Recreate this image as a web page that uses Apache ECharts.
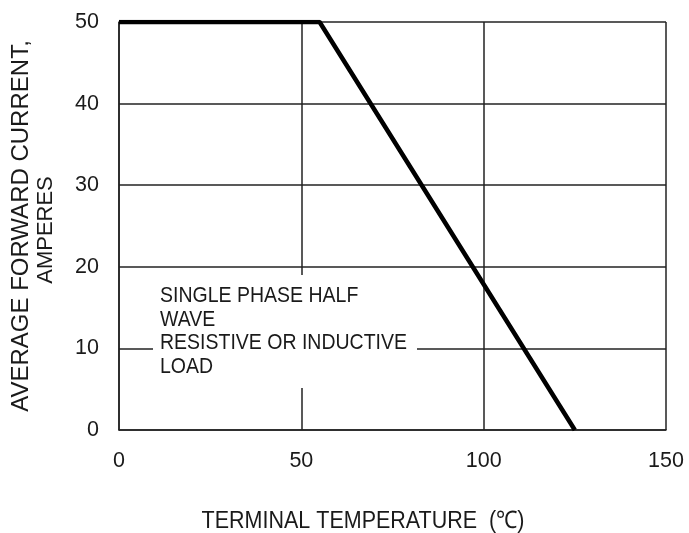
<!DOCTYPE html>
<html>
<head>
<meta charset="utf-8">
<script src="https://cdn.jsdelivr.net/npm/echarts@6/dist/echarts.min.js"></script>
<style>
  html, body { margin: 0; padding: 0; background: #fff; }
  #chart { width: 689px; height: 533px; }
</style>
</head>
<body>
<div id="chart"></div>
<script>
// derating curve: current vs terminal temperature
var tempC = [0, 55, 125]
var currentA = [50, 50, 0]
var xTicks = [0, 50, 100, 150]
var yTicks = [0, 10, 20, 30, 40, 50]
var noteLines = ['SINGLE PHASE HALF', 'WAVE', 'RESISTIVE OR INDUCTIVE', 'LOAD']

var font = 'Liberation Sans, Arial, sans-serif'
var ink = '#1a1a1a'

var chart = echarts.init(document.getElementById('chart'))

var pts = tempC.map(function (t, i) { return [t, currentA[i]] })

// text drawn slightly taller than wide, like the scanned datasheet
var noteText = noteLines.map(function (s, i) {
  return {
    type: 'text',
    z: 11,
    x: 160, y: 296 + i * 23.5, scaleY: 1.12,
    style: {
      text: s, x: 0, y: 0,
      font: '19.5px ' + font, fill: ink,
      textAlign: 'left', textVerticalAlign: 'middle'
    }
  }
})

var option = {
  animation: false,
  backgroundColor: '#fff',
  grid: { left: 119, right: 23, top: 22, bottom: 103 },
  xAxis: {
    type: 'value',
    min: xTicks[0], max: xTicks[xTicks.length - 1], interval: 50,
    axisLine: { lineStyle: { color: '#222', width: 1.5 } },
    axisTick: { show: false },
    splitLine: { show: true, lineStyle: { color: '#222', width: 1.5 } },
    axisLabel: { margin: 20, color: ink, fontFamily: font, fontSize: 21.5 }
  },
  yAxis: {
    type: 'value',
    min: yTicks[0], max: yTicks[yTicks.length - 1], interval: 10,
    axisLine: { show: true, lineStyle: { color: '#222', width: 1.5 } },
    axisTick: { show: false },
    splitLine: { show: true, lineStyle: { color: '#222', width: 1.5 } },
    axisLabel: { margin: 20, color: ink, fontFamily: font, fontSize: 21.5 }
  },
  series: [{
    type: 'line',
    data: pts,
    symbol: 'none',
    lineStyle: { color: '#000', width: 4.5 },
    z: 5
  }],
  graphic: [
    { type: 'rect', z: 10, shape: { x: 153, y: 275, width: 264, height: 113 }, style: { fill: '#fff' } }
  ].concat(noteText).concat([
    {
      type: 'text', x: 21, y: 226, rotation: Math.PI / 2,
      style: { text: 'AVERAGE FORWARD CURRENT,', font: '24px ' + font, fill: ink, textAlign: 'center', textVerticalAlign: 'middle' }
    },
    {
      type: 'text', x: 46, y: 230, rotation: Math.PI / 2,
      style: { text: 'AMPERES', font: '22px ' + font, fill: ink, textAlign: 'center', textVerticalAlign: 'middle' }
    },
    {
      type: 'text', x: 363, y: 521, scaleY: 1.12,
      style: { text: 'TERMINAL TEMPERATURE  (℃)', x: 0, y: 0, font: '21.5px ' + font, fill: ink, textAlign: 'center', textVerticalAlign: 'middle' }
    }
  ])
}

chart.setOption(option)
</script>
</body>
</html>
